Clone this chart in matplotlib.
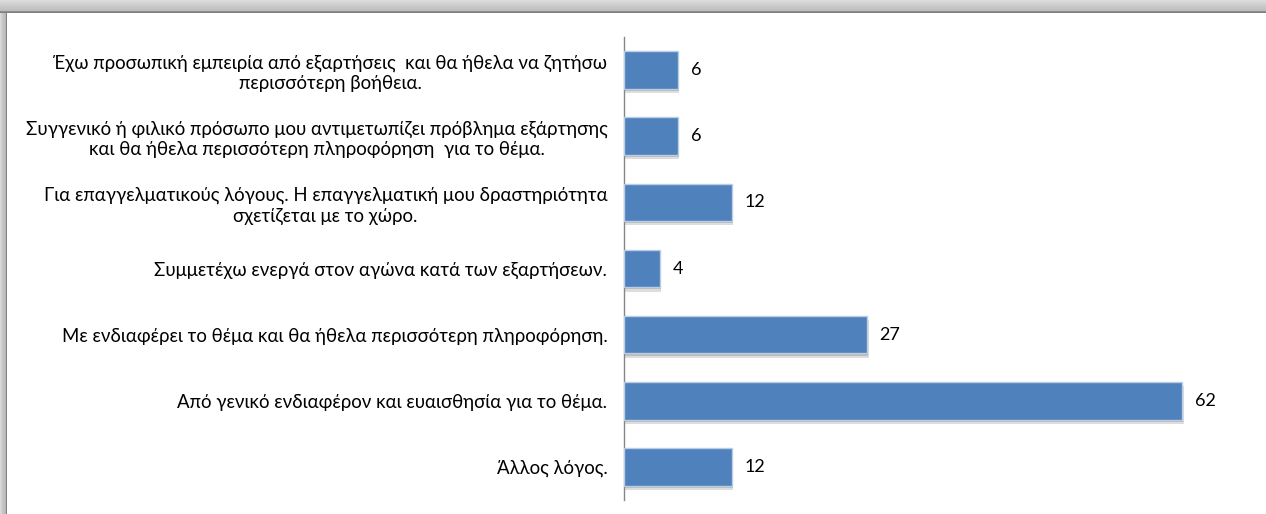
import matplotlib.pyplot as plt
import matplotlib.patheffects as pe
import numpy as np

plt.rcParams['font.family'] = ['Lato', 'Noto Sans', 'DejaVu Sans']

# Reasons given, top to bottom, with number of answers
reasons = [
    "Έχω προσωπική εμπειρία από εξαρτήσεις  και θα ήθελα να ζητήσω\nπερισσότερη βοήθεια.",
    "Συγγενικό ή φιλικό πρόσωπο μου αντιμετωπίζει πρόβλημα εξάρτησης\nκαι θα ήθελα περισσότερη πληροφόρηση  για το θέμα.",
    "Για επαγγελματικούς λόγους. Η επαγγελματική μου δραστηριότητα\nσχετίζεται με το χώρο.",
    "Συμμετέχω ενεργά στον αγώνα κατά των εξαρτήσεων.",
    "Με ενδιαφέρει το θέμα και θα ήθελα περισσότερη πληροφόρηση.",
    "Από γενικό ενδιαφέρον και ευαισθησία για το θέμα.",
    "Άλλος λόγος.",
]
counts = [6, 6, 12, 4, 27, 62, 12]

W, H = 1266, 514
fig = plt.figure(figsize=(W / 100, H / 100), dpi=100)
fig.patch.set_facecolor('white')

# grey bevel along the top and left edges
top = fig.add_axes([0, 1 - 13 / H, 1, 13 / H])
grad = np.linspace(0.86, 0.74, 11)
grad = np.append(grad, [0.55, 0.5])
top.imshow(grad[:, None], cmap='gray', vmin=0, vmax=1, aspect='auto',
           interpolation='nearest', extent=[0, 1, 0, 1])
top.axis('off')
left = fig.add_axes([0, 0, 6 / W, 1 - 13 / H])
gradl = np.append(np.linspace(0.85, 0.72, 5), [0.5])
left.imshow(gradl[None, :], cmap='gray', vmin=0, vmax=1, aspect='auto',
            interpolation='nearest', extent=[0, 1, 0, 1])
left.axis('off')

ax = fig.add_axes([624 / W, 14 / H, 626 / W, 463 / H])
y = np.arange(len(counts))
bars = ax.barh(y, counts, height=0.57, color='#4f81bd', edgecolor='#b9cde5',
               linewidth=1, zorder=3)
# soft drop shadow under each bar
for b in bars:
    b.set_path_effects([
        pe.SimplePatchShadow(offset=(1, -3), shadow_rgbFace='#a0a0a0', alpha=0.35),
        pe.SimplePatchShadow(offset=(0.5, -1.5), shadow_rgbFace='#808080', alpha=0.35),
        pe.Normal()])

for yi, v in zip(y, counts):
    ax.annotate(str(v), (v, yi), xytext=(9, 0), textcoords='offset points',
                ha='left', va='center', fontsize=13, color='#000000')

ax.set_xlim(0, 69.5)
ax.set_ylim(len(counts) - 0.5, -0.5)
ax.set_yticks(y)
ax.set_yticklabels(reasons, fontsize=13.4, ha='right', multialignment='center',
                   linespacing=1.25)
ax.tick_params(axis='y', length=0, pad=12)
ax.set_xticks([])
for s in ['top', 'right', 'bottom']:
    ax.spines[s].set_visible(False)
ax.spines['left'].set_color('#868686')
ax.spines['left'].set_linewidth(1)

fig.savefig('out.png', dpi=100, facecolor='white')
